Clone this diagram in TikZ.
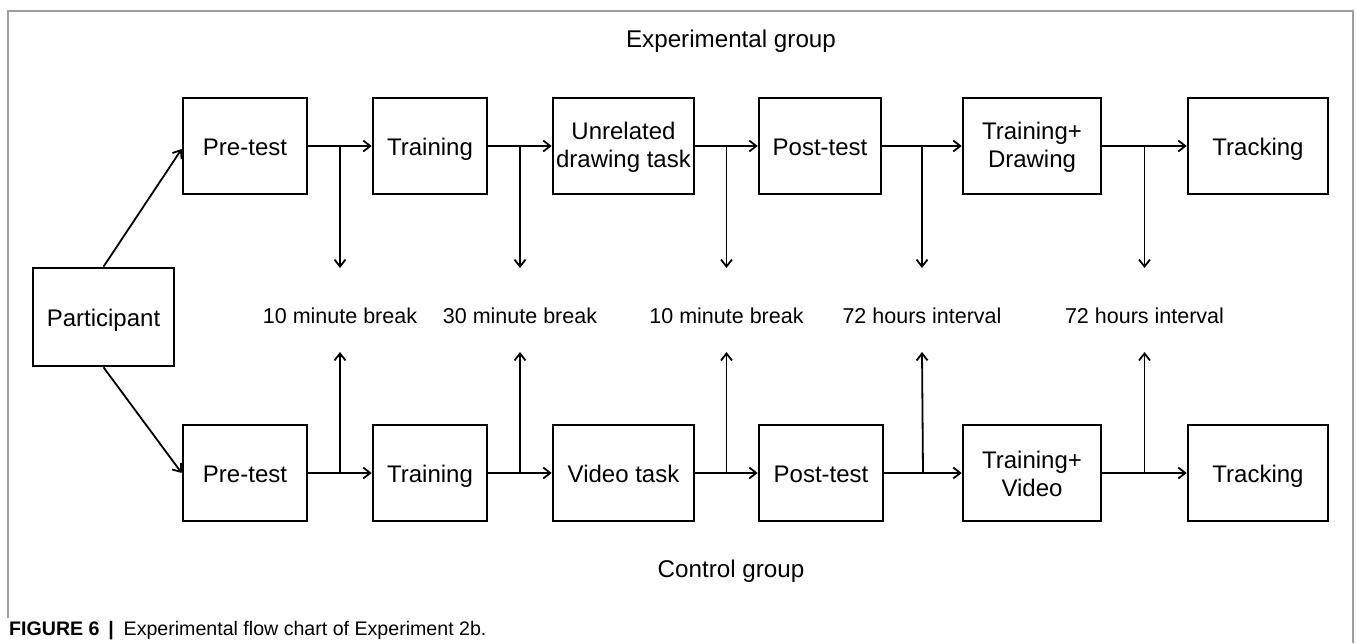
\documentclass[tikz,border=0pt]{standalone}
\usepackage{fontspec}
\setmainfont{Liberation Sans}
\usetikzlibrary{arrows.meta,calc}
\begin{document}
\begin{tikzpicture}[x=1pt,y=-1pt,
  box/.style={draw, line width=2.6pt, inner sep=0pt, minimum width=#1, minimum height=96pt, align=center, font=\fontsize{24}{28}\selectfont},
  one/.style={text height=19pt, text depth=0pt},
  arr/.style={line width=1.8pt, -{Straight Barb[length=7pt,width=11pt]}},
  lab/.style={inner sep=0pt, font=\fontsize{21.5}{26}\selectfont},
  grouptitle/.style={inner sep=0pt, anchor=base, font=\fontsize{24.2}{28}\selectfont},
  frameline/.style={draw=black!38, line width=1.3pt}
]
\useasboundingbox (0,0) rectangle (1356,643);
\draw[frameline] (8,618) -- (8,11) -- (1353,11) -- (1353,643);

\node[grouptitle] (tE) at (731,47) {Experimental group};
\node[grouptitle] (tC) at (731,577) {Control group};

\node[box=141, one, minimum height=98pt] (par) at (103.5,317) {Participant};

\node[box=124, one] (e1) at (245,146) {Pre-test};
\node[box=114, one] (e2) at (430,146) {Training};
\node[box=141] (e3) at (623.5,146) {\rule{0pt}{20pt}Unrelated\\drawing task};
\node[box=122, one] (e4) at (820,146) {Post-test};
\node[box=138] (e5) at (1032,146) {\rule{0pt}{20pt}Training+\\Drawing};
\node[box=140, one] (e6) at (1258,146) {Tracking};

\node[box=124, one] (c1) at (245,473) {Pre-test};
\node[box=114, one] (c2) at (430,473) {Training};
\node[box=141, one] (c3) at (623.5,473) {Video task};
\node[box=124, one] (c4) at (821,473) {Post-test};
\node[box=138] (c5) at (1032,473) {\rule{0pt}{20pt}Training+\\Video};
\node[box=140, one] (c6) at (1258,473) {Tracking};

\draw[arr] (par.north) -- ($(e1.west)+(0,3)$);
\draw[arr] (par.south) -- (c1.west);

\foreach \a/\b/\i in {e1/e2/1,e2/e3/2,e3/e4/3,e4/e5/4,e5/e6/5}{
  \draw[arr] (\a) -- (\b);
  \coordinate (je\i) at ($(\a.east)!0.5!(\b.west)$);
}
\foreach \a/\b/\i in {c1/c2/1,c2/c3/2,c3/c4/3,c4/c5/4,c5/c6/5}{
  \draw[arr] (\a) -- (\b);
  \coordinate (jc\i) at ($(\a.east)!0.5!(\b.west)$);
}

\node[lab] (l1) at ($(je1)+(0,170)$) {10 minute break};
\node[lab] (l2) at ($(je2)+(0,170)$) {30 minute break};
\node[lab] (l3) at ($(je3)+(0,170)$) {10 minute break};
\node[lab] (l4) at ($(je4)+(0,170)$) {72 hours interval};
\node[lab] (l5) at ($(je5)+(0,170)$) {72 hours interval};

\foreach \i in {1,...,5}{
  \draw[arr] (je\i) -- ($(l\i)+(0,-48)$);
  \draw[arr] (jc\i) -- ($(l\i)+(0,36)$);
}

\node[anchor=base west, inner sep=0pt, font=\fontsize{19.6}{22}\selectfont] (cap) at (9,635)
  {{\bfseries FIGURE 6\hspace{0.45em}|\hspace{0.5em}}Experimental flow chart of Experiment 2b.};
\end{tikzpicture}
\end{document}
